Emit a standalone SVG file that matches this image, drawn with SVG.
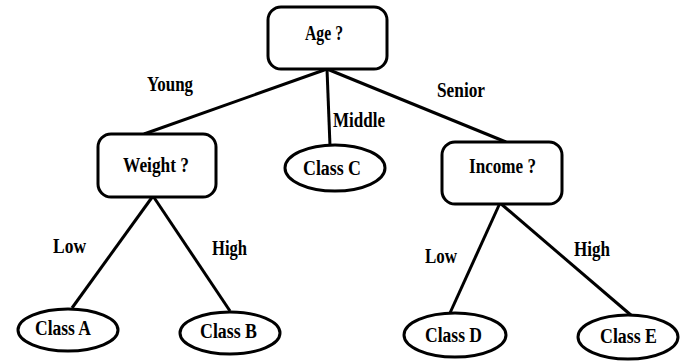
<svg xmlns="http://www.w3.org/2000/svg" width="683" height="361" viewBox="0 0 683 361">
<style>
.box{fill:#fff;stroke:#000;stroke-width:3}
.leaf{fill:#fff;stroke:#000;stroke-width:3}
.edge{stroke:#000;stroke-width:3;fill:none}
text{font-family:"Liberation Serif","Times New Roman",serif;font-weight:bold;font-size:20px;fill:#000}
</style>
<rect width="683" height="361" fill="#fff"/>
<g id="connectors">
<line class="edge" x1="327" y1="69" x2="144" y2="134"/>
<line class="edge" x1="327" y1="69" x2="330" y2="146"/>
<line class="edge" x1="327" y1="69" x2="506" y2="142"/>
<line class="edge" x1="153" y1="196" x2="72" y2="308"/>
<line class="edge" x1="153" y1="196" x2="230" y2="311"/>
<line class="edge" x1="500" y1="203" x2="450" y2="313"/>
<line class="edge" x1="500" y1="203" x2="632" y2="316"/>
<text x="147" y="91" textLength="46" lengthAdjust="spacingAndGlyphs">Young</text>
<text x="333" y="127" textLength="52" lengthAdjust="spacingAndGlyphs">Middle</text>
<text x="437" y="97" textLength="48" lengthAdjust="spacingAndGlyphs">Senior</text>
<text x="53" y="253" textLength="33" lengthAdjust="spacingAndGlyphs">Low</text>
<text x="212" y="255" textLength="35" lengthAdjust="spacingAndGlyphs">High</text>
<text x="425" y="263" textLength="32" lengthAdjust="spacingAndGlyphs">Low</text>
<text x="574" y="256" textLength="36" lengthAdjust="spacingAndGlyphs">High</text>
</g>
<g id="age">
<rect class="box" x="268" y="7" width="119" height="62" rx="13"/>
<text x="305" y="40" textLength="38" lengthAdjust="spacingAndGlyphs">Age ?</text>
</g>
<g id="weight">
<rect class="box" x="98" y="134" width="118" height="63" rx="13"/>
<text x="123" y="172" textLength="66" lengthAdjust="spacingAndGlyphs">Weight ?</text>
</g>
<g id="classC">
<ellipse class="leaf" cx="335" cy="168" rx="50" ry="23"/>
<text x="303" y="175" textLength="58" lengthAdjust="spacingAndGlyphs">Class C</text>
</g>
<g id="income">
<rect class="box" x="442" y="142" width="120" height="62" rx="13"/>
<text x="469" y="173" textLength="67" lengthAdjust="spacingAndGlyphs">Income ?</text>
</g>
<g id="classA">
<ellipse class="leaf" cx="68" cy="330" rx="50" ry="21"/>
<text x="35" y="335" textLength="56" lengthAdjust="spacingAndGlyphs">Class A</text>
</g>
<g id="classB">
<ellipse class="leaf" cx="230" cy="333" rx="50" ry="21"/>
<text x="200" y="338" textLength="57" lengthAdjust="spacingAndGlyphs">Class B</text>
</g>
<g id="classD">
<ellipse class="leaf" cx="455" cy="335" rx="51" ry="22"/>
<text x="425" y="342" textLength="57" lengthAdjust="spacingAndGlyphs">Class D</text>
</g>
<g id="classE">
<ellipse class="leaf" cx="628" cy="337" rx="50" ry="22"/>
<text x="600" y="343" textLength="57" lengthAdjust="spacingAndGlyphs">Class E</text>
</g>
</svg>
